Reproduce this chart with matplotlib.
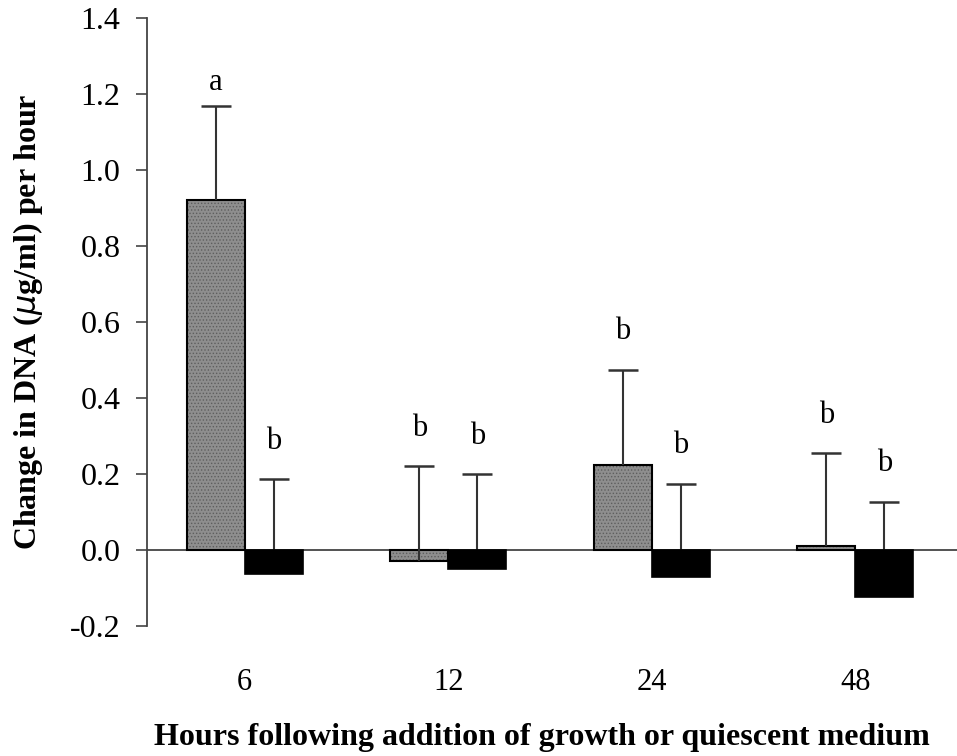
import numpy as np
import matplotlib
matplotlib.use("Agg")
import matplotlib.pyplot as plt

plt.rcParams['font.family'] = ['Liberation Serif', 'DejaVu Serif']
plt.rcParams['hatch.linewidth'] = 0.6

# DNA synthesis rate after medium change
hours = ['6', '12', '24', '48']
growth_mean = [0.92, -0.03, 0.225, 0.01]
growth_err = [0.25, 0.25, 0.25, 0.245]
quiescent_mean = [-0.063, -0.05, -0.07, -0.123]
quiescent_err = [0.25, 0.25, 0.245, 0.25]
growth_sig = ['a', 'b', 'b', 'b']
quiescent_sig = ['b', 'b', 'b', 'b']

# gap between the error cap and the letter baseline
sig_gap = {'a': 0.04, 'b': 0.08}

x = np.arange(len(hours))
width = 0.285

fig = plt.figure(figsize=(9.57, 7.56), dpi=100)
ax = fig.add_axes([0.1536, 0.172, 0.8464, 0.804])

# stippled grey bars: hatch layer first, then the black outline
ax.bar(x - width / 2, growth_mean, width, color='#8e8e8e', edgecolor='#5e5e5e',
       hatch='.....', linewidth=0, zorder=2)
ax.bar(x - width / 2, growth_mean, width, fill=False, edgecolor='black',
       linewidth=1.5, zorder=3)
# solid bars sit above the error lines so the lines are hidden inside them
ax.bar(x + width / 2, quiescent_mean, width, color='black', edgecolor='black',
       linewidth=1.2, zorder=5)


def upper_errorbar(xpos, mean, err):
    _, caps, _ = ax.errorbar(xpos, mean, yerr=[np.zeros(len(err)), err], fmt='none',
                             ecolor='#333333', elinewidth=1.5, capsize=11,
                             capthick=1.8, zorder=4)
    # drop the lower caps, only the upper half of the bar is shown
    caps[0].set_visible(False)


upper_errorbar(x - width / 2, growth_mean, growth_err)
upper_errorbar(x + width / 2, quiescent_mean, quiescent_err)

for i in range(len(hours)):
    top = growth_mean[i] + growth_err[i]
    ax.text(x[i] - width / 2, top + sig_gap[growth_sig[i]], growth_sig[i],
            ha='center', va='baseline', fontsize=22)
    top = quiescent_mean[i] + quiescent_err[i]
    ax.text(x[i] + width / 2, top + sig_gap[quiescent_sig[i]], quiescent_sig[i],
            ha='center', va='baseline', fontsize=22)

ax.axhline(0, color='#444444', linewidth=1.3, zorder=1)

ax.set_xlim(-0.48, 3.5)
ax.set_ylim(-0.2, 1.4)
yt = np.arange(-0.2, 1.41, 0.2)
ax.set_yticks(yt)
ax.set_yticklabels(['%.1f' % v for v in yt], fontsize=23)
ax.tick_params(axis='y', direction='out', length=8, width=1.2, color='#444444', pad=11)

ax.set_xticks(x)
ax.set_xticklabels(hours, fontsize=22)
ax.tick_params(axis='x', length=0, pad=30)

for side in ['top', 'right', 'bottom']:
    ax.spines[side].set_visible(False)
ax.spines['left'].set_color('#444444')
ax.spines['left'].set_linewidth(1.3)

fig.text(0.029, 0.574, 'Change in DNA ($\\mu$g/ml) per hour', rotation=90,
         ha='center', va='center', fontsize=23, fontweight='bold')
fig.text(0.566, 0.025, 'Hours following addition of growth or quiescent medium',
         ha='center', va='center', fontsize=23, fontweight='bold')

fig.savefig('out.png', dpi=100)
